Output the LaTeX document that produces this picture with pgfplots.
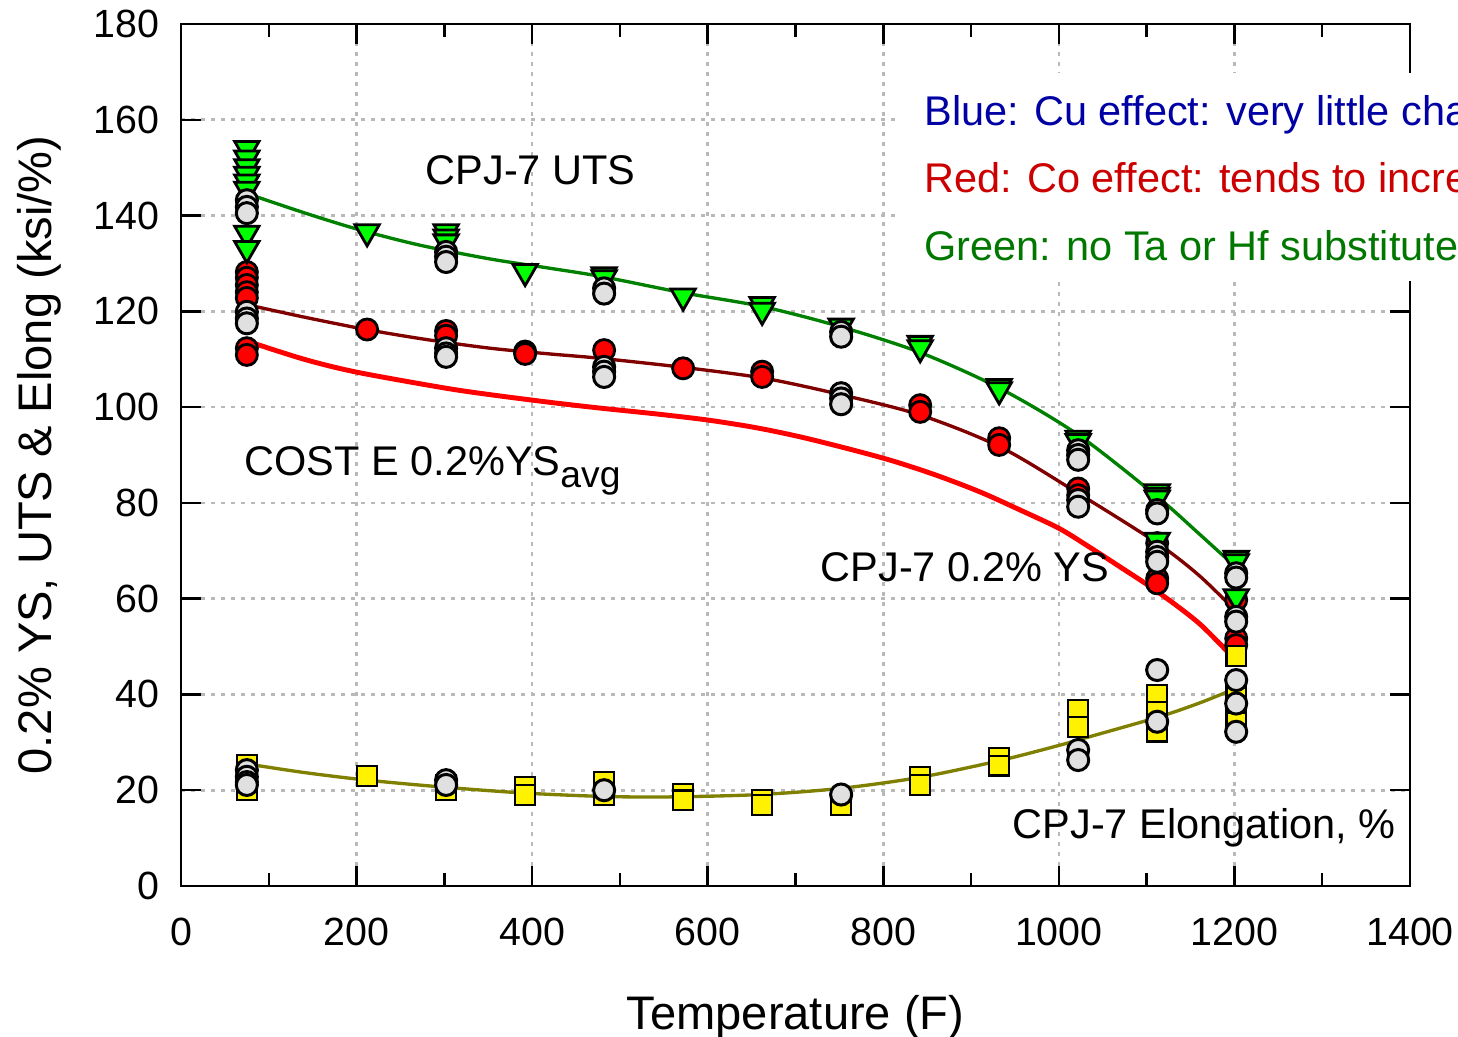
\documentclass[border=0pt]{standalone}
\usepackage{fontspec}
\setmainfont{Liberation Sans}
\usepackage{pgfplots}
\pgfplotsset{compat=1.18}

\definecolor{ptgrey}{RGB}{224,224,224}
\definecolor{fitgreen}{RGB}{0,128,0}
\definecolor{fitdark}{RGB}{128,0,0}
\definecolor{fitolive}{RGB}{128,128,0}
\definecolor{txtblue}{RGB}{0,0,165}
\definecolor{txtred}{RGB}{204,0,0}
\definecolor{txtgreen}{RGB}{0,120,0}
\definecolor{gridgrey}{RGB}{185,185,185}

\newcommand{\annfont}{\fontsize{11.8}{14}\selectfont}

\pgfplotsset{
  utsmark/.style={only marks, mark=triangle*, mark size=4.0pt,
    mark options={rotate=180, fill=green, draw=black, line width=0.8pt}},
  ysmark/.style={only marks, mark=*, mark size=3.0pt,
    mark options={fill=red, draw=black, line width=0.8pt}},
  refmark/.style={only marks, mark=*, mark size=3.0pt,
    mark options={fill=ptgrey, draw=black, line width=0.85pt}},
  elmark/.style={only marks, mark=square*, mark size=2.8pt,
    mark options={fill=yellow, draw=black, line width=0.65pt}},
}

\begin{document}
\begin{tikzpicture}
\begin{axis}[
  scale only axis,
  width=122.9mm, height=86.2mm,
  xmin=0, xmax=1400, ymin=0, ymax=180,
  xtick={0,200,...,1400}, ytick={0,20,...,180},
  minor x tick num=1,
  tick align=inside,
  major tick length=2mm, minor tick length=1.3mm,
  tick style={black, line width=0.7pt},
  axis line style={line width=0.7pt},
  grid=major,
  major grid style={gridgrey, line width=0.75pt, dash pattern=on 0.4mm off 0.6mm},
  clip=false,
  /pgf/number format/assume math mode=true,
  /pgf/number format/1000 sep={},
  xticklabel style={anchor=base, inner sep=0pt, yshift=-6.0mm, font=\fontsize{11.2}{13}\selectfont},
  yticklabel style={anchor=east, inner sep=0pt, xshift=-2.1mm, font=\fontsize{11.2}{13}\selectfont},
  xlabel={Temperature (F)},
  ylabel={0.2\% YS, UTS \& Elong (ksi/\%)},
  every axis x label/.style={at={(axis description cs:0.5,-0.167)}, anchor=base, inner sep=0pt, font=\fontsize{13.4}{16}\selectfont},
  every axis y label/.style={at={(axis description cs:-0.105,0.5)}, anchor=base, rotate=90, inner sep=0pt, font=\fontsize{13.4}{16}\selectfont},
]

% CPJ-7 yield strength
\addplot[ysmark] coordinates {
  (75,128.2)(75,127.0)(75,125.5)(75,124.0)(75,122.8)(75,112.3)(75,110.9)
  (212,116.2)
  (302,115.9)(302,114.9)
  (392,111.6)(392,111.1)
  (482,111.9)
  (572,108.1)
  (662,107.4)(662,106.3)
  (842,100.4)(842,99.0)
  (932,93.5)(932,92.1)
  (1022,83.0)(1022,81.6)
  (1112,71.6)(1112,64.2)(1112,63.2)
  (1202,59.7)(1202,51.7)(1202,50.3)
};

% CPJ-7 ultimate tensile strength
\addplot[utsmark] coordinates {
  (75,154.0)(75,152.0)(75,150.2)(75,148.6)(75,147.0)(75,145.5)(75,136.3)(75,133.1)
  (212,136.6)
  (302,136.6)(302,135.5)(302,134.5)
  (392,128.3)
  (482,127.6)(482,127.0)
  (572,123.2)
  (662,121.4)(662,120.2)
  (752,116.9)
  (842,113.3)(842,112.4)
  (932,104.3)(932,103.6)
  (1022,93.5)(1022,92.8)
  (1112,82.3)(1112,81.6)(1112,81.0)(1112,72.2)
  (1202,68.4)(1202,67.7)(1202,60.4)
};

% CPJ-7 elongation
\addplot[elmark] coordinates {
  (75,25.3)(75,22.5)(75,20.0)
  (212,23.0)
  (302,21.0)(302,20.0)
  (392,20.7)(392,19.0)
  (482,21.8)(482,19.0)
  (572,19.2)(572,17.9)
  (662,18.0)(662,16.9)
  (752,18.0)(752,16.9)
  (842,22.8)(842,21.1)
  (932,26.8)(932,25.1)
  (1022,36.8)(1022,33.2)
  (1112,39.9)(1112,36.3)(1112,32.2)
  (1202,48.0)(1202,40.0)(1202,36.0)(1202,34.0)
};

% trend curves
\addplot[fitgreen, line width=0.95pt, smooth, no marks] coordinates {
  (75,144.6)(140,140.6)(200,137.2)(270,133.9)(350,131.0)(420,129.0)(481,127.2)
  (571,123.9)(662,121.0)(751,116.8)(842,111.4)(933,103.9)(1022,94.2)
  (1112,81.3)(1160,73.5)(1202,66.5)
};
\addplot[fitdark, line width=0.95pt, smooth, no marks] coordinates {
  (75,121.4)(140,118.8)(211,116.2)(280,114.1)(352,112.3)(420,111.1)(477,110.2)(572,108.3)(665,106.0)
  (754,102.5)(843,98.3)(934,91.6)(1022,82.0)(1112,71.6)(1160,64.8)(1202,57.3)
};
\addplot[fitolive, line width=0.95pt, smooth, no marks] coordinates {
  (75,25.5)(140,23.7)(212,22.1)(302,20.6)(392,19.4)(481,18.7)(557,18.6)
  (660,19.1)(752,20.4)(842,22.7)(933,26.2)(1001,29.4)(1022,30.5)
  (1112,35.2)(1160,38.2)(1202,41.3)
};

% COST E average 0.2% yield strength
\addplot[red, line width=1.4pt, smooth, no marks] coordinates {
  (75,113.8)(140,110.0)(200,107.3)(300,104.0)(352,102.6)(420,101.0)(477,99.8)
  (540,98.6)(600,97.3)(655,95.7)(705,93.8)(760,91.3)(810,88.8)(860,85.8)
  (910,82.3)(956,78.5)(1000,74.7)(1032,71.1)(1070,66.6)(1112,61.5)(1160,54.8)(1202,47.0)
};

% reference alloy (grey)
\addplot[refmark] coordinates {
  (75,143.2)(75,141.8)(75,140.5)(302,132.4)(302,131.4)(302,130.3)
  (482,124.8)(482,123.7)(752,115.7)(752,114.7)
  (1022,91.0)(1022,90.0)(1022,89.0)(1112,78.5)(1112,77.8)(1202,65.3)(1202,64.4)
  (75,119.9)(75,118.5)(75,117.5)(302,112.3)(302,111.2)(302,110.5)
  (482,108.4)(482,107.4)(482,106.3)(752,102.9)(752,101.8)(752,100.6)
  (1022,80.6)(1022,79.2)(1112,69.8)(1112,68.7)(1112,67.7)(1202,56.2)(1202,55.2)
  (75,24.2)(75,22.8)(75,21.7)(75,21.1)(302,22.1)(302,21.1)(482,20.0)(752,19.1)
  (1022,28.4)(1022,26.3)(1112,45.1)(1112,34.3)(1202,43.0)(1202,38.1)(1202,32.2)
};

% curve labels
\node[anchor=base west, inner sep=0pt, font=\annfont] at (axis cs:278,146.4) {CPJ-7 UTS};
\node[anchor=base west, inner sep=0pt, font=\annfont] at (axis cs:71.8,85.8)
  {COST E 0.2\%YS\raisebox{-3.4pt}{\fontsize{10.6}{12}\selectfont avg}};
\node[anchor=base west, inner sep=0pt, font=\annfont] at (axis cs:728,63.5) {CPJ-7 0.2\% YS};
\node[anchor=base west, inner sep=0pt, font=\annfont] at (axis cs:946.6,10.0) {CPJ-7 Elongation, \%};

% notes box
\fill[white] (axis cs:817,126.4) rectangle (axis cs:1700,169.8);
\node[anchor=base west, inner sep=0pt, font=\annfont, text=txtblue] at (axis cs:846,158.9)
  {Blue: Cu effect: very little change};
\node[anchor=base west, inner sep=0pt, font=\annfont, text=txtred] at (axis cs:846,144.9)
  {Red: Co effect: tends to increase};
\node[anchor=base west, inner sep=0pt, font=\annfont, text=txtgreen] at (axis cs:846,130.7)
  {Green: no Ta or Hf substitute};
\end{axis}
\pgfresetboundingbox
\useasboundingbox (-18.1mm,-15.1mm) rectangle (127.7mm,88.6mm);
\end{tikzpicture}
\end{document}
